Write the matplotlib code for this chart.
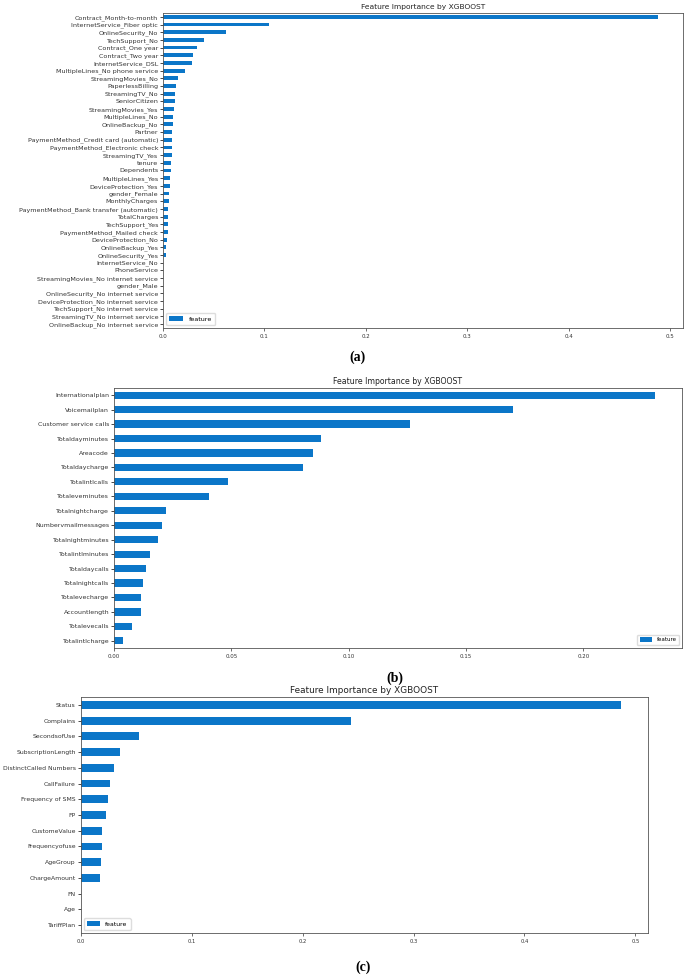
import matplotlib
matplotlib.use("Agg")
import matplotlib.pyplot as plt

# panel (a) - telco churn
feat_a = ["Contract_Month-to-month", "InternetService_Fiber optic", "OnlineSecurity_No",
          "TechSupport_No", "Contract_One year", "Contract_Two year", "InternetService_DSL",
          "MultipleLines_No phone service", "StreamingMovies_No", "PaperlessBilling",
          "StreamingTV_No", "SeniorCitizen", "StreamingMovies_Yes", "MultipleLines_No",
          "OnlineBackup_No", "Partner", "PaymentMethod_Credit card (automatic)",
          "PaymentMethod_Electronic check", "StreamingTV_Yes", "tenure", "Dependents",
          "MultipleLines_Yes", "DeviceProtection_Yes", "gender_Female", "MonthlyCharges",
          "PaymentMethod_Bank transfer (automatic)", "TotalCharges", "TechSupport_Yes",
          "PaymentMethod_Mailed check", "DeviceProtection_No", "OnlineBackup_Yes",
          "OnlineSecurity_Yes", "InternetService_No", "PhoneService",
          "StreamingMovies_No internet service", "gender_Male",
          "OnlineSecurity_No internet service", "DeviceProtection_No internet service",
          "TechSupport_No internet service", "StreamingTV_No internet service",
          "OnlineBackup_No internet service"]
imp_a = [0.488, 0.104, 0.0616, 0.0405, 0.0336, 0.0293, 0.0286, 0.0214, 0.0152, 0.0132,
         0.0118, 0.0115, 0.0112, 0.0096, 0.0095, 0.0089, 0.0088, 0.0086, 0.0085, 0.0083,
         0.0079, 0.0069, 0.0068, 0.0056, 0.0054, 0.0053, 0.0050, 0.0049, 0.0048, 0.0043,
         0.0034, 0.0027, 0, 0, 0, 0, 0, 0, 0, 0, 0]

# panel (b)
feat_b = ["Internationalplan", "Voicemailplan", "Customer service calls", "Totaldayminutes",
          "Areacode", "Totaldaycharge", "Totalintlcalls", "Totaleveminutes",
          "Totalnightcharge", "Numbervmailmessages", "Totalnightminutes", "Totalintlminutes",
          "Totaldaycalls", "Totalnightcalls", "Totalevecharge", "Accountlength",
          "Totalevecalls", "Totalintlcharge"]
imp_b = [0.2305, 0.170, 0.126, 0.088, 0.0846, 0.0807, 0.0485, 0.0403, 0.0221, 0.0203,
         0.0186, 0.0155, 0.0136, 0.0125, 0.0115, 0.0114, 0.0078, 0.0038]

# panel (c)
feat_c = ["Status", "Complains", "SecondsofUse", "SubscriptionLength",
          "DistinctCalled Numbers", "CallFailure", "Frequency of SMS", "FP",
          "CustomeValue", "Frequencyofuse", "AgeGroup", "ChargeAmount", "FN", "Age",
          "TariffPlan"]
imp_c = [0.487, 0.2435, 0.0523, 0.0354, 0.0300, 0.0261, 0.0243, 0.0225, 0.0195, 0.0189,
         0.018, 0.0177, 0, 0, 0]

BLUE = "#0b76c8"
TITLE = "Feature Importance by XGBOOST"

fig = plt.figure(figsize=(6.85, 9.77), dpi=100)


def panel(rect, names, vals, ylab_size, xlab_size, title_size, legend_loc, letter, letter_xy,
          leg_size=4):
    ax = fig.add_axes(rect)
    n = len(names)
    ax.barh(range(n), vals[::-1], height=0.5, color=BLUE, label="feature")
    ax.set_yticks(range(n))
    ax.set_yticklabels(names[::-1], fontsize=ylab_size, color="#333333")
    ax.set_ylim(-0.5, n - 0.5)
    ax.set_xlim(0, max(vals) * 1.05)
    ax.tick_params(axis="x", labelsize=xlab_size, length=2, width=0.5, pad=2, colors="#333333")
    ax.tick_params(axis="y", length=2, width=0.5, pad=1.5)
    for s in ax.spines.values():
        s.set_linewidth(0.6)
        s.set_color("#555555")
    ax.set_title(TITLE, fontsize=title_size, pad=3, color="#222222")
    ax.legend(loc=legend_loc, fontsize=leg_size, handlelength=2.2, handleheight=0.8,
              borderpad=0.5, framealpha=1, edgecolor="#dddddd", fancybox=True)
    fig.text(letter_xy[0], letter_xy[1], letter, fontsize=10, fontweight="bold",
             family="Liberation Serif", ha="center", va="center")
    return ax


panel([0.238, 0.6643, 0.759, 0.3224], feat_a, imp_a, 4.6, 4.0, 5.4, "lower left",
      "(a)", (357 / 685, 1 - 357 / 977), leg_size=4.6)
panel([0.1664, 0.3367, 0.8292, 0.2662], feat_b, imp_b, 4.5, 4.0, 5.6, "lower right",
      "(b)", (395 / 685, 1 - 678 / 977))
panel([0.1178, 0.0450, 0.8282, 0.2416], feat_c, imp_c, 4.4, 3.8, 6.4, "lower left",
      "(c)", (363 / 685, 1 - 967 / 977), leg_size=4.4)

fig.savefig("out.png", dpi=100)
